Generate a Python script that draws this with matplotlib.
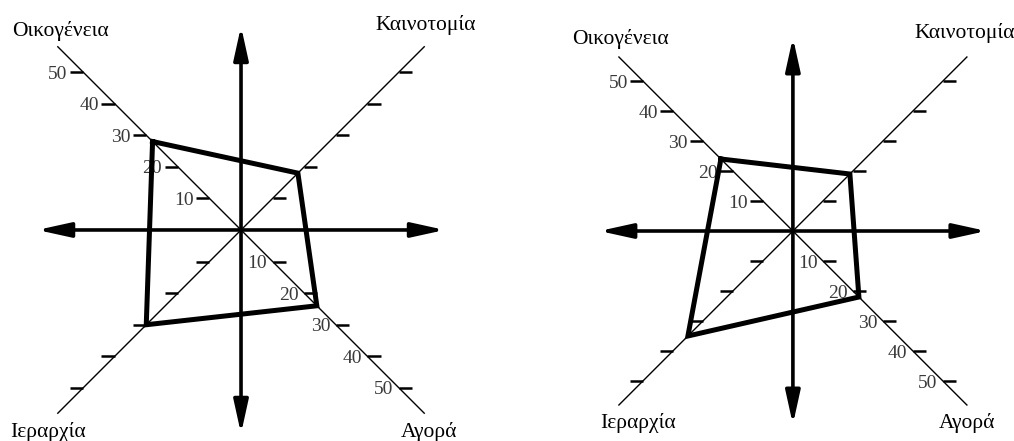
import matplotlib.pyplot as plt


OUTPUT_FILE = "out.png"

# culture types, one per diagonal: upper left, upper right, lower right, lower left
CULTURES = ["Οικογένεια", "Καινοτομία", "Αγορά", "Ιεραρχία"]
LEFT_SCORES = [28, 18, 24, 30]
RIGHT_SCORES = [24, 19, 22, 35]
TICK_VALUES = [10, 20, 30, 40, 50]
TICK_LABELS = ["10", "20", "30", "40", "50"]

DIRECTIONS = [(-1, 1), (1, 1), (1, -1), (-1, -1)]
DIAGONAL_LENGTH = 58
ARROW_LENGTH = 64.5
TICK_LENGTH = 4.2

plt.rcParams["font.family"] = ["Liberation Serif", "DejaVu Serif"]


def draw_panel(ax, scores, name_positions):
    ax.set_aspect("equal")
    ax.axis("off")

    # thin diagonals
    for dx, dy in DIRECTIONS:
        ax.plot([0, dx * DIAGONAL_LENGTH], [0, dy * DIAGONAL_LENGTH],
                color="black", lw=1.0, zorder=2)

    # tick marks, extending horizontally outward from each diagonal
    for dx, dy in DIRECTIONS:
        for value in TICK_VALUES:
            x = dx * value
            y = dy * value
            ax.plot([x, x + dx * TICK_LENGTH], [y, y], color="black",
                    lw=1.8, solid_capstyle="butt", zorder=2)

    # tick labels on the Οικογένεια and Αγορά diagonals
    for value, label in zip(TICK_VALUES, TICK_LABELS):
        ax.text(-value - TICK_LENGTH - 0.8, value, label, ha="right",
                va="center_baseline", fontsize=14, color="#3a3a3a", zorder=3)
        ax.text(value - 1.8, -value, label, ha="right",
                va="center_baseline", fontsize=14, color="#3a3a3a", zorder=3)

    # main axes with arrow heads
    arrow_props = dict(arrowstyle="<|-|>,head_length=1.0,head_width=0.22",
                       lw=2.6, color="black", mutation_scale=20,
                       shrinkA=0, shrinkB=0)
    ax.annotate("", xy=(0, ARROW_LENGTH), xytext=(0, -ARROW_LENGTH),
                arrowprops=arrow_props, zorder=4)
    ax.annotate("", xy=(ARROW_LENGTH, 0), xytext=(-ARROW_LENGTH, 0),
                arrowprops=arrow_props, zorder=4)

    # profile polygon
    xs = [dx * s for (dx, dy), s in zip(DIRECTIONS, scores)]
    ys = [dy * s for (dx, dy), s in zip(DIRECTIONS, scores)]
    ax.plot(xs + xs[:1], ys + ys[:1], color="black", lw=3.6,
            solid_joinstyle="miter", zorder=5)

    for name, (x, y, ha) in zip(CULTURES, name_positions):
        ax.text(x, y, name, ha=ha, va="center", fontsize=15.5, color="black")


def main():
    fig = plt.figure(figsize=(10.14, 4.41), dpi=100)

    left_ax = fig.add_axes([0, 0, 0.5, 1])
    draw_panel(
        left_ax,
        LEFT_SCORES,
        [(-72.5, 63.0, "left"), (74.4, 65.0, "right"),
         (68.4, -63.9, "right"), (-73.1, -63.9, "left")],
    )
    left_ax.set_xlim(-76.3, 84.2)
    left_ax.set_ylim(-66.8, 72.8)

    right_ax = fig.add_axes([0.5, 0, 0.5, 1])
    draw_panel(
        right_ax,
        RIGHT_SCORES,
        [(-73.7, 64.0, "left"), (74.0, 66.0, "right"),
         (67.3, -64.0, "right"), (-64.3, -64.0, "left")],
    )
    right_ax.set_xlim(-95.3, 73.7)
    right_ax.set_ylim(-70.0, 77.0)

    fig.savefig(OUTPUT_FILE, dpi=100, facecolor="white")
    plt.close(fig)


if __name__ == "__main__":
    main()
